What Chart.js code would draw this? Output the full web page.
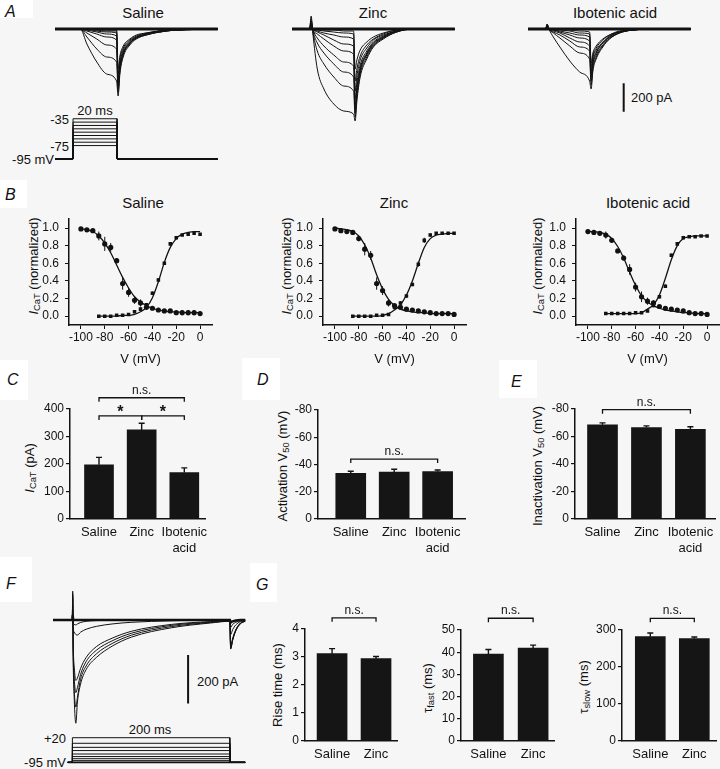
<!DOCTYPE html>
<html>
<head>
<meta charset="utf-8">
<script src="https://cdn.jsdelivr.net/npm/chart.js@4.4.1/dist/chart.umd.min.js"></script>
<style>
  body { margin: 0; background: #f6f6f6; width: 720px; height: 769px; overflow: hidden; position: relative;
         font-family: "Liberation Sans", Arial, sans-serif; color: #111; }
  canvas { position: absolute; }
  .c { position: absolute; white-space: nowrap; transform: translate(-50%, -50%); }
  .r { position: absolute; white-space: nowrap; transform: translate(-100%, -50%); }
  .l { position: absolute; white-space: nowrap; transform: translate(0, -50%); }
  .v { position: absolute; white-space: nowrap; transform: translate(-50%, -50%) rotate(-90deg); font-size: 13px; }
  .box { position: absolute; background: #fff; font-style: italic; font-size: 16px; }
  .box span { position: absolute; transform: translateY(-50%); }
  sub { font-size: 72%; vertical-align: -0.3em; line-height: 0; }
</style>
</head>
<body>

<!-- panel letters -->
<div class="box" style="left:0;top:0;width:33px;height:18px"><span style="left:5px;top:12px">A</span></div>
<div class="box" style="left:0;top:180px;width:27px;height:28px"><span style="left:5px;top:15px">B</span></div>
<div class="box" style="left:0;top:360px;width:28px;height:40px"><span style="left:7px;top:20px">C</span></div>
<div class="box" style="left:242px;top:358px;width:38px;height:42px"><span style="left:15px;top:22px">D</span></div>
<div class="box" style="left:499px;top:360px;width:38px;height:38px"><span style="left:12px;top:22px">E</span></div>
<div class="box" style="left:0;top:557px;width:32px;height:45px"><span style="left:6px;top:27px">F</span></div>
<div class="box" style="left:250px;top:563px;width:27px;height:39px"><span style="left:6px;top:22px">G</span></div>

<!-- A texts -->
<div class="c" style="left:143px;top:12px;font-size:15px">Saline</div>
<div class="c" style="left:373px;top:12px;font-size:15px">Zinc</div>
<div class="c" style="left:615px;top:12px;font-size:15px">Ibotenic acid</div>
<div class="l" style="left:631px;top:97px;font-size:13px">200 pA</div>
<div class="c" style="left:95px;top:110px;font-size:13px">20 ms</div>
<div class="r" style="left:69px;top:119px;font-size:13px">-35</div>
<div class="r" style="left:69px;top:146px;font-size:13px">-75</div>
<div class="r" style="left:54px;top:159px;font-size:13px">-95 mV</div>

<!-- B texts -->
<div class="c" style="left:143px;top:202px;font-size:15px">Saline</div>
<div class="c" style="left:394px;top:202px;font-size:15px">Zinc</div>
<div class="c" style="left:648px;top:202px;font-size:15px">Ibotenic acid</div>
<div class="v" style="left:33px;top:266px"><i>I</i><sub>CaT</sub> (normalized)</div>
<div class="v" style="left:286px;top:266px"><i>I</i><sub>CaT</sub> (normalized)</div>
<div class="v" style="left:537px;top:266px"><i>I</i><sub>CaT</sub> (normalized)</div>

<!-- C D E texts -->
<div class="v" style="left:29px;top:468px"><i>I</i><sub>CaT</sub> (pA)</div>
<div class="v" style="left:282px;top:466px">Activation V<sub>50</sub> (mV)</div>
<div class="v" style="left:537px;top:466px">Inactivation V<sub>50</sub> (mV)</div>

<!-- F texts -->
<div class="l" style="left:197px;top:681px;font-size:13px">200 pA</div>
<div class="c" style="left:150px;top:729px;font-size:13px">200 ms</div>
<div class="r" style="left:66px;top:738px;font-size:13px">+20</div>
<div class="r" style="left:66px;top:762px;font-size:13px">-95 mV</div>

<!-- G texts -->
<div class="v" style="left:277px;top:685px">Rise time (ms)</div>
<div class="v" style="left:427px;top:688px">τ<sub>fast</sub> (ms)</div>
<div class="v" style="left:583px;top:687px">τ<sub>slow</sub> (ms)</div>

<script>
const INK = "#121212";

// ---- panel A: current traces (pA) sampled at these times (ms) ----
const tA = [0, 8, 8.7, 9.5, 11.5, 14.5, 19, 23.5, 28, 28.7, 29.5, 31, 34, 37, 41.5, 47.5, 55, 74];

const salineTraces = [
  [0,0,0,0,0,-105,-231,-315,-364,-469,-315,-196,-112,-70,-42,-21,-7,0],
  [0,0,0,0,0,-56,-140,-196,-231,-441,-294,-182,-105,-63,-42,-21,-7,0],
  [0,0,0,0,0,-28,-70,-112,-140,-420,-280,-175,-98,-63,-35,-21,-7,0],
  [0,0,0,0,0,-14,-35,-56,-77,-399,-266,-168,-98,-63,-35,-21,-7,0],
  [0,0,0,0,0,-7,-21,-35,-49,-378,-252,-161,-91,-56,-35,-14,-7,0],
  [0,0,0,0,0,0,-14,-21,-28,-350,-238,-147,-84,-56,-35,-14,-7,0],
  [0,0,0,0,0,0,-7,-14,-14,-315,-210,-133,-77,-49,-28,-14,-7,0],
  [0,0,0,0,0,0,0,-7,-7,-280,-189,-119,-70,-42,-28,-14,0,0]
];

const zincTraces = [
  [0,0,91,-35,-280,-420,-525,-574,-595,-644,-504,-336,-210,-126,-70,-21,0,0],
  [0,0,70,-21,-154,-245,-336,-399,-434,-616,-476,-315,-196,-119,-63,-21,0,0],
  [0,0,56,-14,-98,-168,-245,-301,-336,-588,-448,-294,-182,-112,-63,-21,0,0],
  [0,0,42,-7,-63,-119,-182,-231,-259,-560,-434,-287,-175,-105,-56,-14,0,0],
  [0,0,35,-7,-35,-70,-119,-154,-175,-532,-413,-273,-168,-98,-56,-14,0,0],
  [0,0,28,0,-21,-42,-77,-105,-119,-490,-378,-252,-154,-91,-49,-14,0,0],
  [0,0,21,0,-14,-28,-42,-56,-70,-434,-329,-217,-133,-77,-42,-14,0,0],
  [0,0,14,0,-7,-14,-21,-28,-35,-364,-280,-189,-112,-70,-35,-7,0,0],
  [0,0,14,0,0,-7,-7,-14,-14,-280,-217,-147,-91,-56,-28,-7,0,0]
];

const iboTraces = [
  [0,0,35,0,-56,-126,-224,-301,-364,-420,-294,-210,-126,-70,-28,-7,0,0],
  [0,0,35,0,-28,-63,-119,-168,-210,-392,-273,-196,-119,-70,-28,-7,0,0],
  [0,0,28,0,-21,-42,-84,-126,-154,-364,-252,-182,-112,-63,-28,-7,0,0],
  [0,0,28,0,-14,-28,-63,-91,-119,-336,-238,-168,-98,-56,-21,-7,0,0],
  [0,0,21,0,-7,-21,-42,-63,-84,-315,-224,-161,-98,-56,-21,-7,0,0],
  [0,0,21,0,-7,-14,-28,-42,-56,-294,-203,-147,-91,-49,-21,-7,0,0],
  [0,0,14,0,0,-7,-14,-28,-35,-266,-189,-133,-77,-42,-21,-7,0,0],
  [0,0,14,0,0,0,-7,-14,-21,-238,-168,-119,-70,-42,-14,-7,0,0]
];

const protocolTimesA = [0, 8.2, 8.2, 28.2, 28.2, 74];
const protocolLevelsA = [-35, -40, -45, -50, -55, -60, -65, -70, -75];

// ---- panel B: normalized I-V (activation / steady-state inactivation) ----
const inactVolts = [-100,-95,-90,-85,-80,-75,-70,-65,-60,-55,-50,-45,-40,-35,-30,-25,-20,-15,-10,-5,0];
const actVolts = [-85,-80,-75,-70,-65,-60,-55,-50,-45,-40,-35,-30,-25,-20,-15,-10,-5,0];

const salineInact = [0.99,0.98,0.97,0.91,0.82,0.78,0.63,0.37,0.27,0.18,0.15,0.10,0.09,0.07,0.06,0.06,0.04,0.04,0.04,0.04,0.03];
const salineInactErr = [0.02,0.02,0.02,0.05,0.08,0.05,0.03,0.07,0.05,0.04,0.04,0.02,0.02,0.02,0.02,0.02,0.02,0.03,0.03,0.03,0.02];
const salineAct = [0.00,0.00,0.00,0.01,0.01,0.02,0.05,0.08,0.13,0.26,0.41,0.60,0.82,0.89,0.92,0.93,0.94,0.93];
const salineActErr = [0.01,0.01,0.01,0.01,0.01,0.01,0.01,0.02,0.02,0.02,0.02,0.02,0.02,0.02,0.01,0.01,0.01,0.01];
const salineInactFit = [0.99,0.98,0.96,0.91,0.83,0.72,0.58,0.44,0.32,0.22,0.16,0.12,0.09,0.07,0.06,0.05,0.05,0.04,0.04,0.04,0.04];
const salineActFit = [0.00,0.00,0.00,0.00,0.01,0.01,0.02,0.05,0.10,0.21,0.39,0.61,0.78,0.88,0.93,0.95,0.96,0.96];

const zincInact = [0.99,0.97,0.96,0.95,0.88,0.76,0.69,0.37,0.29,0.15,0.12,0.10,0.08,0.07,0.06,0.05,0.04,0.03,0.03,0.03,0.02];
const zincInactErr = [0.02,0.02,0.01,0.02,0.03,0.07,0.05,0.07,0.05,0.04,0.02,0.02,0.02,0.02,0.02,0.02,0.02,0.01,0.01,0.01,0.01];
const zincAct = [0.00,0.00,0.00,0.00,0.01,0.01,0.02,0.10,0.15,0.23,0.36,0.59,0.86,0.92,0.94,0.94,0.94,0.94];
const zincActErr = [0.01,0.01,0.01,0.01,0.01,0.01,0.01,0.02,0.02,0.02,0.02,0.03,0.03,0.02,0.01,0.01,0.01,0.01];
const zincInactFit = [1.00,0.99,0.98,0.96,0.91,0.81,0.66,0.47,0.31,0.19,0.12,0.08,0.06,0.05,0.04,0.04,0.03,0.03,0.03,0.03,0.03];
const zincActFit = [0.00,0.00,0.00,0.00,0.00,0.01,0.03,0.07,0.13,0.24,0.40,0.60,0.78,0.88,0.92,0.93,0.94,0.94];

const iboInact = [0.96,0.95,0.94,0.92,0.86,0.74,0.66,0.53,0.33,0.22,0.17,0.15,0.11,0.09,0.08,0.07,0.06,0.04,0.03,0.03,0.02];
const iboInactErr = [0.02,0.02,0.02,0.04,0.03,0.02,0.03,0.06,0.05,0.06,0.04,0.03,0.02,0.02,0.02,0.02,0.02,0.01,0.01,0.01,0.01];
const iboAct = [0.03,0.03,0.03,0.03,0.03,0.04,0.04,0.06,0.12,0.22,0.34,0.69,0.82,0.89,0.90,0.90,0.91,0.91];
const iboActErr = [0.01,0.01,0.01,0.01,0.01,0.01,0.01,0.01,0.02,0.02,0.02,0.02,0.02,0.02,0.01,0.01,0.01,0.01];
const iboInactFit = [0.96,0.96,0.95,0.93,0.88,0.79,0.66,0.50,0.35,0.23,0.16,0.12,0.09,0.07,0.06,0.05,0.04,0.04,0.03,0.03,0.03];
const iboActFit = [0.03,0.03,0.03,0.03,0.03,0.03,0.04,0.08,0.13,0.24,0.43,0.64,0.80,0.88,0.90,0.91,0.91,0.91];

const ivTicksX = [-100, -80, -60, -40, -20, 0];
const ivTicksY = [0, 0.2, 0.4, 0.6, 0.8, 1.0];

// ---- panels C, D, E: bar summaries ----
const groups3 = ["Saline", "Zinc", ["Ibotenic", "acid"]];
const peakCurrent = [197, 324, 169];
const peakCurrentErr = [27, 24, 17];
const activationV50 = [-33.5, -34.5, -34.8];
const activationV50Err = [1.5, 2.0, 1.2];
const inactivationV50 = [-68.5, -66.5, -65.3];
const inactivationV50Err = [1.4, 1.2, 1.8];

// ---- panel F: traces (pA) at these times (ms) ----
const tF = [0, 24.5, 25, 25.6, 27, 29, 31, 35, 42, 55, 75, 100, 150, 200, 224.5, 225.5, 228, 232, 238, 244];
const fTraces = [
  [0,0,120,-150,-330,-427,-340,-265,-205,-155,-108,-70,-32,-12,-5,-120,-85,-45,-15,-5],
  [0,0,110,-130,-290,-360,-320,-245,-190,-140,-97,-62,-27,-10,-4,-118,-82,-43,-14,-4],
  [0,0,100,-110,-240,-300,-280,-225,-172,-125,-86,-54,-22,-8,-3,-115,-80,-42,-13,-4],
  [0,0,90,-90,-195,-250,-240,-200,-155,-110,-75,-46,-18,-6,-2,-110,-77,-40,-12,-3],
  [0,0,60,-30,-50,-60,-62,-50,-38,-26,-16,-9,-3,0,0,-60,-40,-20,-6,0],
  [0,0,40,-10,-18,-20,-16,-10,-5,-2,0,0,0,0,0,-30,-18,-9,-3,0]
];
const fBaseline = [0,0,20,0,0,0,0,0,0,0,0,0,0,0,0,-10,-5,-2,0,0];
const protocolTimesF = [18.7, 24.6, 24.6, 224.5, 224.5, 244];
const protocolLevelsF = [20, -6, -25, -40, -56, -68, -78, -87];

// ---- panel G: kinetics ----
const groups2 = ["Saline", "Zinc"];
const riseTime = [3.12, 2.94];
const riseTimeErr = [0.18, 0.08];
const tauFast = [39.2, 41.8];
const tauFastErr = [2.0, 1.4];
const tauSlow = [282, 277];
const tauSlowErr = [10, 4];

Chart.defaults.font.family = '"Liberation Sans", Arial, sans-serif';
Chart.defaults.color = INK;

function makeCanvas(left, top, w, h) {
  const c = document.createElement("canvas");
  c.width = Math.round(w);
  c.height = Math.round(h);
  c.style.left = left + "px";
  c.style.top = top + "px";
  document.body.appendChild(c);
  return c;
}

function baseOptions() {
  return {
    responsive: false,
    animation: false,
    events: [],
    plugins: { legend: { display: false }, tooltip: { enabled: false } }
  };
}

function points(xs, ys) {
  return xs.map((x, i) => ({ x: x, y: ys[i] }));
}

// error bars drawn from each point/bar through the y scale
const errorBarPlugin = {
  id: "errorBars",
  afterDatasetsDraw(chart) {
    const ctx = chart.ctx;
    const ys = chart.scales.y;
    chart.data.datasets.forEach((ds, di) => {
      if (!ds.errors) return;
      const meta = chart.getDatasetMeta(di);
      ctx.save();
      ctx.strokeStyle = INK;
      ctx.lineWidth = ds.errorWidth || 1.2;
      meta.data.forEach((el, i) => {
        const v = ds.data[i].y;
        const e = ds.errors[i];
        let y1, y2;
        if (ds.errorBoth) {
          y1 = ys.getPixelForValue(v - e);
          y2 = ys.getPixelForValue(v + e);
        } else {
          y1 = ys.getPixelForValue(v);
          y2 = ys.getPixelForValue(v + Math.sign(v) * e);
        }
        ctx.beginPath();
        ctx.moveTo(el.x, y1);
        ctx.lineTo(el.x, y2);
        if (ds.errorCap) {
          ctx.moveTo(el.x - ds.errorCap, y2);
          ctx.lineTo(el.x + ds.errorCap, y2);
        }
        ctx.stroke();
      });
      ctx.restore();
    });
  }
};

function bracketPlugin(items) {
  return {
    id: "brackets",
    afterDraw(chart) {
      const ctx = chart.ctx;
      const xs = chart.scales.x, ys = chart.scales.y;
      ctx.save();
      ctx.strokeStyle = INK;
      ctx.fillStyle = INK;
      ctx.lineWidth = 1.3;
      items.forEach(b => {
        const x1 = xs.getPixelForValue(b.from);
        const x2 = xs.getPixelForValue(b.to);
        const y = ys.getPixelForValue(b.at);
        ctx.beginPath();
        ctx.moveTo(x1, y + 4);
        ctx.lineTo(x1, y);
        ctx.lineTo(x2, y);
        ctx.lineTo(x2, y + 4);
        ctx.stroke();
        const star = b.text === "*";
        ctx.font = star ? 'bold 16px "Liberation Sans"' : '12px "Liberation Sans"';
        ctx.textAlign = "center";
        ctx.textBaseline = "alphabetic";
        ctx.fillText(b.text, (x1 + x2) / 2, star ? y + 1 : y - 4);
      });
      ctx.restore();
    }
  };
}

// ---- trace charts ----
function traceChart(left, top, w, h, xr, yr, times, traces, extra, smooth) {
  const c = makeCanvas(left, top, w, h);
  const datasets = traces.map(tr => ({
    data: points(times, tr),
    borderColor: INK,
    borderWidth: 1,
    pointRadius: 0,
    cubicInterpolationMode: smooth ? "monotone" : "default",
    tension: 0
  }));
  new Chart(c, {
    type: "line",
    data: { datasets: datasets.concat(extra || []) },
    options: Object.assign(baseOptions(), {
      layout: { padding: 0 },
      scales: {
        x: { type: "linear", display: false, min: xr[0], max: xr[1] },
        y: { display: false, min: yr[0], max: yr[1] }
      }
    })
  });
}

function flatTrace(times, values, width) {
  return { data: points(times, values), borderColor: INK, borderWidth: width, pointRadius: 0 };
}

const zerosA = tA.map(() => 0);
const rangeA = [-707, 203];
traceChart(55, 0, 163, 130, [0, 74.1], rangeA, tA, salineTraces, [flatTrace(tA, zerosA, 3)], true);
traceChart(292, 0, 163, 130, [0, 74.1], rangeA, tA, zincTraces, [flatTrace(tA, zerosA, 3)], true);
traceChart(528, 0, 163, 130, [0, 74.1], rangeA, tA, iboTraces, [
  flatTrace(tA, zerosA, 3),
  { data: [{ x: 43.5, y: -380 }, { x: 43.5, y: -580 }], borderColor: INK, borderWidth: 2, pointRadius: 0 }
], true);

// voltage protocol A
traceChart(55, 100, 163, 65, [0, 74.1], [-104, -7], protocolTimesA,
  protocolLevelsA.map(v => [-95, -95, v, v, -95, -95]));

// panel F traces
traceChart(53, 580, 193, 150, [0, 245], [-455, 166], tF, fTraces, [
  flatTrace(tF, fBaseline, 2.5),
  { data: [{ x: 171.5, y: -145 }, { x: 171.5, y: -345 }], borderColor: INK, borderWidth: 2, pointRadius: 0 }
], true);
traceChart(53, 730, 193, 36, [0, 245], [-112, 56], protocolTimesF,
  protocolLevelsF.map(v => [-95, -95, v, v, -95, -95]), [
  flatTrace([18.7, 244], [-95, -95], 1.8)
]);

// ---- I-V charts ----
function ivChart(plotLeft, inact, inactErr, act, actErr, inactFit, actFit) {
  const pad = { l: 45, t: 4, r: 3, b: 42 };
  const plotTop = 210, plotW = 144, plotH = 114.5;
  const c = makeCanvas(plotLeft - pad.l, plotTop - pad.t, pad.l + plotW + pad.r, pad.t + plotH + pad.b);
  const opts = baseOptions();
  opts.layout = { padding: { top: pad.t, right: pad.r, left: 0, bottom: 0 } };
  opts.scales = {
    x: {
      type: "linear", min: -110, max: 10,
      afterBuildTicks: s => { s.ticks = ivTicksX.map(v => ({ value: v })); },
      afterFit: s => { s.height = pad.b; },
      ticks: { font: { size: 12 }, padding: 1, maxRotation: 0, autoSkip: false },
      grid: { display: true, drawOnChartArea: false, tickLength: 4, color: INK, lineWidth: 1 },
      border: { display: true, color: INK, width: 1.5 },
      title: { display: true, text: "V (mV)", font: { size: 13 }, padding: { top: 3, bottom: 0 } }
    },
    y: {
      min: -0.1, max: 1.1,
      afterBuildTicks: s => { s.ticks = ivTicksY.map(v => ({ value: v })); },
      afterFit: s => { s.width = pad.l; },
      ticks: { font: { size: 12 }, padding: 6, callback: v => v.toFixed(1) },
      grid: { display: true, drawOnChartArea: false, tickLength: 4, color: INK, lineWidth: 1 },
      border: { display: true, color: INK, width: 1.5 }
    }
  };
  new Chart(c, {
    type: "line",
    data: {
      datasets: [
        { data: points(inactVolts, inactFit), borderColor: INK, borderWidth: 1.3, pointRadius: 0, cubicInterpolationMode: "monotone" },
        { data: points(actVolts, actFit), borderColor: INK, borderWidth: 1.3, pointRadius: 0, cubicInterpolationMode: "monotone" },
        { data: points(inactVolts, inact), showLine: false, pointStyle: "circle", pointRadius: 2.6,
          backgroundColor: INK, borderColor: INK, borderWidth: 0, errors: inactErr, errorBoth: true, errorWidth: 1 },
        { data: points(actVolts, act), showLine: false, pointStyle: "rect", pointRadius: 2.5,
          backgroundColor: INK, borderColor: INK, borderWidth: 0, errors: actErr, errorBoth: true, errorWidth: 1 }
      ]
    },
    options: opts,
    plugins: [errorBarPlugin]
  });
}

ivChart(69, salineInact, salineInactErr, salineAct, salineActErr, salineInactFit, salineActFit);
ivChart(323, zincInact, zincInactErr, zincAct, zincActErr, zincInactFit, zincActFit);
ivChart(576, iboInact, iboInactErr, iboAct, iboActErr, iboInactFit, iboActFit);

// ---- bar charts ----
function barChart(o) {
  const pad = { l: 40, t: o.padT, r: 6, b: 38 };
  const c = makeCanvas(o.left - pad.l, o.top - pad.t, pad.l + o.w + pad.r, pad.t + o.h + pad.b);
  const yTicks = [];
  for (let v = o.ymin; v <= o.ymax + 1e-9; v += o.step) yTicks.push(v);
  const opts = baseOptions();
  opts.layout = { padding: { top: pad.t, right: pad.r, left: 0, bottom: 0 } };
  opts.scales = {
    x: {
      type: "linear", offset: false, min: o.xmin, max: o.xmax,
      afterBuildTicks: s => { s.ticks = o.cats.map((c, i) => ({ value: i + 1 })); },
      afterFit: s => { s.height = pad.b; },
      ticks: { font: { size: 13 }, padding: o.xPad || 6, maxRotation: 0, autoSkip: false,
               callback: v => o.cats[Math.round(v) - 1] },
      grid: { display: false, drawTicks: false },
      border: { display: true, color: INK, width: 1.5 }
    },
    y: {
      min: o.ymin, max: o.ymax, reverse: !!o.reverse,
      afterBuildTicks: s => { s.ticks = yTicks.map(v => ({ value: v })); },
      afterFit: s => { s.width = pad.l; },
      ticks: { font: { size: 12 }, padding: 2 },
      grid: { display: true, drawOnChartArea: false, tickLength: 4, color: INK, lineWidth: 1.2 },
      border: { display: true, color: INK, width: 1.5 }
    }
  };
  new Chart(c, {
    type: "bar",
    data: {
      datasets: [{
        data: o.values.map((v, i) => ({ x: i + 1, y: v })),
        backgroundColor: "#151515",
        barThickness: o.barW || 29,
        errors: o.errors, errorCap: 3, errorWidth: 1.4
      }]
    },
    options: opts,
    plugins: [errorBarPlugin, bracketPlugin(o.brackets)]
  });
}

barChart({ left: 70, top: 409, w: 138, h: 109.5, xmin: 0.32, xmax: 3.49, ymin: 0, ymax: 400, step: 100,
  cats: groups3, values: peakCurrent, errors: peakCurrentErr, padT: 30,
  brackets: [ { from: 1, to: 3, at: 441, text: "n.s." },
              { from: 1, to: 2, at: 375, text: "*" },
              { from: 2, to: 3, at: 375, text: "*" } ] });

barChart({ left: 318, top: 410, w: 147, h: 109.3, xmin: 0.246, xmax: 3.63, ymin: -80, ymax: 0, step: 20, reverse: true,
  cats: groups3, values: activationV50, errors: activationV50Err, padT: 10, barW: 30,
  brackets: [ { from: 1, to: 3, at: -44, text: "n.s." } ] });

barChart({ left: 575, top: 409.3, w: 140, h: 110, xmin: 0.374, xmax: 3.56, ymin: -80, ymax: 0, step: 20, reverse: true,
  cats: groups3, values: inactivationV50, errors: inactivationV50Err, padT: 24, barW: 30,
  brackets: [ { from: 1, to: 3, at: -79.5, text: "n.s." } ] });

barChart({ left: 305, top: 629.3, w: 91.7, h: 111.7, xmin: 0.384, xmax: 2.477, ymin: 0, ymax: 4, step: 1,
  cats: groups2, values: riseTime, errors: riseTimeErr, padT: 26, barW: 30,
  brackets: [ { from: 1, to: 2, at: 4.4, text: "n.s." } ] });

barChart({ left: 460.7, top: 630, w: 92.6, h: 111, xmin: 0.387, xmax: 2.467, ymin: 0, ymax: 50, step: 10,
  cats: groups2, values: tauFast, errors: tauFastErr, padT: 26, barW: 30,
  brackets: [ { from: 1, to: 2, at: 55.3, text: "n.s." } ] });

barChart({ left: 621.7, top: 630, w: 94, h: 111, xmin: 0.357, xmax: 2.493, ymin: 0, ymax: 300, step: 100,
  cats: groups2, values: tauSlow, errors: tauSlowErr, padT: 26, barW: 30,
  brackets: [ { from: 1, to: 2, at: 331.6, text: "n.s." } ] });
</script>
</body>
</html>
